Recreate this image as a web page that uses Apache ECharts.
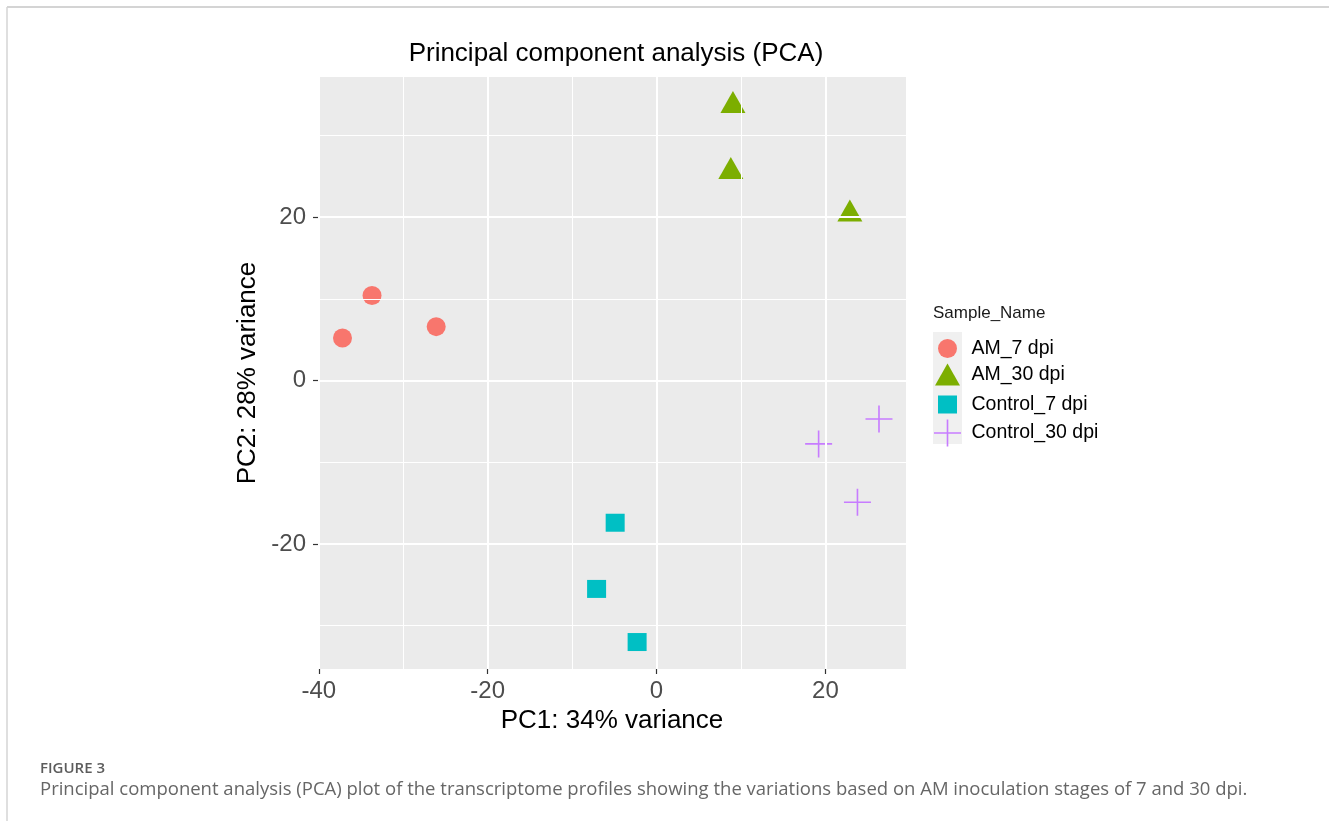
<!DOCTYPE html>
<html>
<head>
<meta charset="utf-8">
<script src="https://cdn.jsdelivr.net/npm/echarts@6/dist/echarts.min.js"></script>
<style>
html,body{margin:0;padding:0;background:#fff;}
#chart{width:1329px;height:821px;}
</style>
</head>
<body>
<div id="chart"></div>
<script>
// ---- data ----
const seriesNames = ['AM_7 dpi', 'AM_30 dpi', 'Control_7 dpi', 'Control_30 dpi'];
const am7X = [-37.2, -33.7, -26.1];
const am7Y = [5.2, 10.4, 6.6];
const am30X = [9.05, 8.8, 22.9];
const am30Y = [34.1, 26.0, 20.8];
const ctl7X = [-4.9, -7.1, -2.3];
const ctl7Y = [-17.4, -25.5, -32.0];
const ctl30X = [19.2, 26.35, 23.8];
const ctl30Y = [-7.75, -4.7, -14.9];
const xTicks = [-40, -20, 0, 20];
const yTicks = [-20, 0, 20];
const xMinorGrid = [-30, -10, 10];
const yMinorGrid = [-30, -10, 10, 30];

const colors = ['#F8766D', '#7CAE00', '#00BFC4', '#C77CFF'];
const crossPath = 'path://M47,0H53V47H100V53H53V100H47V53H0V47H47Z';
const symbols = ['circle', 'triangle', 'rect', crossPath];
const symbolSizes = [19, [25, 22], [19, 18], [27, 27]];

function pairs(xs, ys) { return xs.map((x, i) => [x, ys[i]]); }
const seriesData = [pairs(am7X, am7Y), pairs(am30X, am30Y), pairs(ctl7X, ctl7Y), pairs(ctl30X, ctl30Y)];

const chart = echarts.init(document.getElementById('chart'));
const FONT = '"Liberation Sans", Arial, Helvetica, sans-serif';

const gridLines = [];
xTicks.forEach(v => gridLines.push({ xAxis: v, lineStyle: { width: 2 } }));
yTicks.forEach(v => gridLines.push({ yAxis: v, lineStyle: { width: 2 } }));
xMinorGrid.forEach(v => gridLines.push({ xAxis: v, lineStyle: { width: 1 } }));
yMinorGrid.forEach(v => gridLines.push({ yAxis: v, lineStyle: { width: 1 } }));

const series = [{
  type: 'scatter', name: '_grid', data: [], silent: true, z: 1,
  markLine: {
    silent: true, symbol: ['none', 'none'], label: { show: false },
    lineStyle: { color: '#ffffff', type: 'solid', width: 1 },
    emphasis: { disabled: true },
    animation: false,
    data: gridLines
  }
}];
seriesNames.forEach((n, i) => {
  series.push({
    type: 'scatter', name: n, data: seriesData[i], z: 3,
    symbol: symbols[i], symbolSize: symbolSizes[i],
    itemStyle: { color: colors[i], opacity: 1 }
  });
});

const legendCenters = [348, 374.5, 403.5, 433];
const legends = seriesNames.map((n, i) => {
  const s = symbolSizes[i];
  const w = Array.isArray(s) ? s[0] : s;
  const h = Array.isArray(s) ? s[1] : s;
  return {
    data: [{ name: n, icon: symbols[i] }],
    left: 947.5 - w / 2,
    top: legendCenters[i] - h / 2,
    padding: 0,
    itemWidth: w, itemHeight: h,
    selectedMode: false,
    itemStyle: { color: colors[i], borderWidth: 0 },
    textStyle: { fontFamily: FONT, fontSize: 19.5, color: '#000', padding: [0, 0, 0, 19 - w / 2] }
  };
});

const axisTickStyle = { color: '#333', width: 1.2 };

chart.setOption({
  animation: false,
  backgroundColor: '#ffffff',
  title: {
    text: 'Principal component analysis (PCA)',
    left: 611, top: 49, textAlign: 'center', textVerticalAlign: 'middle',
    textStyle: { fontFamily: FONT, fontSize: 26, fontWeight: 'normal', color: '#000' }
  },
  grid: {
    left: 318, top: 77, width: 588, height: 592,
    show: true, backgroundColor: '#EBEBEB', borderWidth: 0
  },
  xAxis: {
    type: 'value', min: -40.1, max: 29.55,
    name: 'PC1: 34% variance', nameLocation: 'middle', nameGap: 35,
    nameTextStyle: { fontFamily: FONT, fontSize: 26, color: '#000' },
    axisLine: { show: false, onZero: false },
    axisTick: { show: true, customValues: xTicks, length: 5, lineStyle: axisTickStyle },
    axisLabel: { customValues: xTicks, margin: 10, fontFamily: FONT, fontSize: 24, color: '#4D4D4D' },
    splitLine: { show: false }
  },
  yAxis: {
    type: 'value', min: -35.3, max: 37.15,
    name: 'PC2: 28% variance', nameLocation: 'middle', nameGap: 57, nameRotate: 90,
    nameTextStyle: { fontFamily: FONT, fontSize: 26, color: '#000' },
    axisLine: { show: false, onZero: false },
    axisTick: { show: true, customValues: yTicks, length: 5, lineStyle: axisTickStyle },
    axisLabel: { customValues: yTicks, margin: 12, fontFamily: FONT, fontSize: 24, color: '#4D4D4D' },
    splitLine: { show: false }
  },
  legend: legends,
  series: series,
  graphic: [
    { type: 'line', shape: { x1: 7, y1: 7, x2: 1329, y2: 7 }, style: { stroke: '#d4d4d4', lineWidth: 2 }, silent: true },
    { type: 'line', shape: { x1: 7, y1: 7, x2: 7, y2: 821 }, style: { stroke: '#d4d4d4', lineWidth: 1.5 }, silent: true },
    { type: 'rect', shape: { x: 933, y: 332, width: 29, height: 112 }, style: { fill: '#F0F0F0' }, z: -1, silent: true },
    { type: 'text', left: 933, top: 305, style: { text: 'Sample_Name', fontFamily: FONT, fontSize: 17, fill: '#1a1a1a' } },
    { type: 'text', left: 40, top: 761, style: { text: 'FIGURE 3', fontFamily: '"Open Sans", sans-serif', fontSize: 15, fontWeight: 600, fill: '#5c5c5c' } },
    { type: 'text', left: 40, top: 780, style: { text: 'Principal component analysis (PCA) plot of the transcriptome profiles showing the variations based on AM inoculation stages of 7 and 30 dpi.', fontFamily: '"Open Sans", sans-serif', fontSize: 18.5, fill: '#666666' } }
  ]
});
</script>
</body>
</html>
